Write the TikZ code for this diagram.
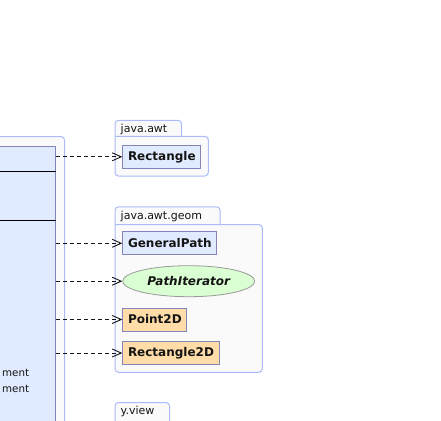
\documentclass[tikz,border=0pt]{standalone}
\usepackage{fontspec}
\setmainfont{DejaVu Sans}
\usetikzlibrary{arrows.meta,positioning,shapes.geometric}
\definecolor{pkgline}{RGB}{172,186,250}
\definecolor{pkgfill}{RGB}{250,250,250}
\definecolor{clsfill}{RGB}{225,235,255}
\definecolor{clsline}{RGB}{132,132,186}
\definecolor{peach}{RGB}{255,220,168}
\definecolor{mint}{RGB}{218,255,210}
\definecolor{ink}{RGB}{20,20,20}
\tikzset{
  >={Straight Barb[length=9pt,width=8pt,line width=0.9pt]},
  pkg/.style={draw=pkgline,fill=pkgfill,line width=1pt,rounded corners=3.5pt},
  pkglabel/.style={anchor=base west,inner sep=0pt,font=\fontsize{11}{13}\selectfont,text=ink},
  cls/.style={draw=clsline,fill=#1,line width=1pt,anchor=west,inner xsep=5.2pt,
    minimum height=23pt,font=\fontsize{12}{14}\selectfont\bfseries,text=ink},
  cls/.default=clsfill,
  iface/.style={ellipse,draw=black!40,fill=mint,line width=0.8pt,anchor=west,inner sep=0pt,
    minimum width=132pt,minimum height=31pt,font=\fontsize{12}{14}\selectfont\bfseries\itshape,text=ink},
  dep/.style={->,draw=ink,line width=0.9pt,dash pattern=on 4pt off 3pt},
}

\begin{document}
\begin{tikzpicture}[x=1pt,y=-1pt]
    \useasboundingbox (0,0) rectangle (441,420);
    \clip (0,0) rectangle (441,420);
    % package holding the cut-off class
    \draw[pkg] (-20,136.5) -- (64.5,136.5) -- (64.5,440) -- (-20,440);
    \node[cls,anchor=north east,minimum width=120pt,minimum height=300pt] (host) at (56,145.5) {};
    \draw[black,line width=1pt] (host.west |- 0,171.3) -- (host.east |- 0,171.3);
    \draw[black,line width=1pt] (host.west |- 0,220.3) -- (host.east |- 0,220.3);
    \node[anchor=west,inner sep=0pt,font=\fontsize{10.3}{12}\selectfont,text=ink] (op1) at (2,373) {ment};
    \node[anchor=west,inner sep=0pt,font=\fontsize{10.3}{12}\selectfont,text=ink] (op2) at (2,389) {ment};
    % java.awt
    \draw[pkg] (115,136.3) -- (115,120.3) -- (181.5,120.3) -- (181.5,136.3);
    \draw[pkg] (115,136.3) -- (208.3,136.3) -- (208.3,176) -- (115,176) -- (115,136.3);
    \node[pkglabel] (awt) at (120.5,132) {java.awt};
    \node[cls] (rect) at (122.3,156.8) {Rectangle};
    % java.awt.geom
    \draw[pkg] (115,224.5) -- (115,206.8) -- (220,206.8) -- (220,224.5);
    \draw[pkg] (115,224.5) -- (262.3,224.5) -- (262.3,372.3) -- (115,372.3) -- (115,224.5);
    \node[pkglabel] (geom) at (120.5,219.5) {java.awt.geom};
    \node[cls] (gpath) at (122.3,243.3) {GeneralPath};
    \node[iface] (piter) at (122.3,281.2) {PathIterator};
    \node[cls=peach] (pt2d) at (122.3,319.5) {Point2D};
    \node[cls=peach] (rect2d) at (122.3,353) {Rectangle2D};
    % y.view
    \draw[pkg] (115,425) -- (115,402.5) -- (169.5,402.5) -- (169.5,425);
    \node[pkglabel] (yview) at (120.5,414.5) {y.view};
    % dependencies
    \foreach \t in {rect,gpath,piter,pt2d,rect2d}
      \draw[dep] (host.east |- \t.west) -- (\t.west);
\end{tikzpicture}
\end{document}
